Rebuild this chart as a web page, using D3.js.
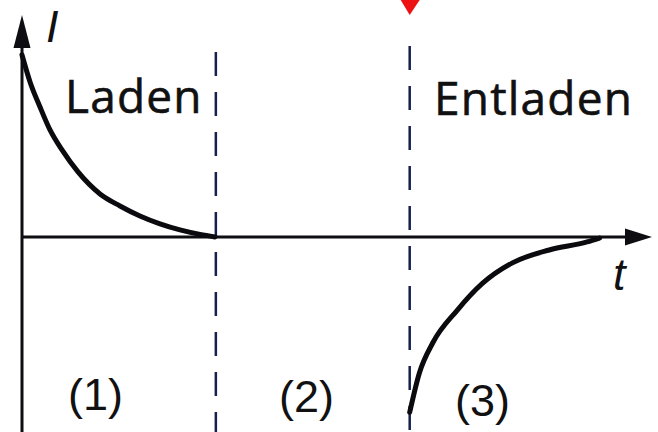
<!DOCTYPE html>
<html>
<head>
<meta charset="utf-8">
<script src="https://cdn.jsdelivr.net/npm/d3@7"></script>
<style>
  html, body { margin: 0; padding: 0; background: #fff; }
  svg { display: block; }
</style>
</head>
<body>
<div id="chart"></div>
<script>
// Werte (t in Einheiten, Trennlinien bei t = 2 und 4)
const ladenT = [0, 0.083, 0.186, 0.289, 0.413, 0.578, 0.805, 1.011, 1.217, 1.424, 1.630, 1.837, 1.991];
const ladenI = [1.017, 0.866, 0.726, 0.598, 0.486, 0.363, 0.240, 0.173, 0.117, 0.073, 0.039, 0.014, 0];

const entladenT = [4.0, 4.10, 4.24, 4.49, 4.75, 5.06, 5.44, 5.83, 5.96];
const entladenI = [-0.98, -0.76, -0.59, -0.41, -0.26, -0.145, -0.073, -0.028, -0.006];

const dividerT = [2, 4];
const phaseNames = ["Laden", "Entladen"];
const phaseLabels = ["(1)", "(2)", "(3)"];

const width = 658, height = 432;

// Skalen
const x = d3.scaleLinear().domain([0, 6.5]).range([22, 652]);
const y = d3.scaleLinear().domain([-1.09, 1.24]).range([432, 15]);

const svg = d3.select("#chart")
    .append("svg")
    .attr("width", width)
    .attr("height", height);

// Trennlinien (gestrichelt)
svg.selectAll(".divider")
    .data(dividerT)
    .enter()
    .append("line")
        .attr("class", "divider")
        .attr("x1", d => x(d))
        .attr("x2", d => x(d))
        .attr("y1", (d, i) => i === 0 ? 52 : 46)
        .attr("y2", height)
        .attr("stroke", "#16204f")
        .attr("stroke-width", 2.5)
        .attr("stroke-dasharray", "24,16");

// Achsen
const axisColor = "#0d0d12";
svg.append("line")
    .attr("x1", x(0)).attr("x2", x(6.5) - 22)
    .attr("y1", y(0)).attr("y2", y(0))
    .attr("stroke", axisColor).attr("stroke-width", 3);

svg.append("line")
    .attr("x1", x(0)).attr("x2", x(0))
    .attr("y1", height).attr("y2", y(1.24) + 25)
    .attr("stroke", axisColor).attr("stroke-width", 3);

// Pfeilspitzen
svg.append("path")
    .attr("d", `M${x(6.5)},${y(0)} L${x(6.5) - 27},${y(0) - 8.5} L${x(6.5) - 27},${y(0) + 8.5} Z`)
    .attr("fill", axisColor);

svg.append("path")
    .attr("d", `M${x(0)},${y(1.24)} L${x(0) - 8.5},${y(1.24) + 33} L${x(0) + 8.5},${y(1.24) + 33} Z`)
    .attr("fill", axisColor);

// Kurven
const line = d3.line()
    .x(d => x(d[0]))
    .y(d => y(d[1]))
    .curve(d3.curveMonotoneX);

svg.append("path")
    .datum(d3.zip(ladenT, ladenI))
    .attr("d", line)
    .attr("fill", "none")
    .attr("stroke", "#0a0a0f")
    .attr("stroke-width", 5)
    .attr("stroke-linecap", "round");

svg.append("path")
    .datum(d3.zip(entladenT, entladenI))
    .attr("d", line)
    .attr("fill", "none")
    .attr("stroke", "#0a0a0f")
    .attr("stroke-width", 5)
    .attr("stroke-linecap", "round");

// Roter Marker oben
svg.append("path")
    .attr("d", `M${x(4) - 9},0 L${x(4) + 10},0 L${x(4)},15 Z`)
    .attr("fill", "#ee1111");

// Achsenbeschriftung
svg.append("text")
    .attr("x", 46).attr("y", 42)
    .style("font-family", "Liberation Sans, Arial, sans-serif")
    .style("font-style", "italic")
    .style("font-size", "45px")
    .style("fill", "#111")
    .text("I");

svg.append("text")
    .attr("x", 613).attr("y", 290)
    .style("font-family", "Liberation Sans, Arial, sans-serif")
    .style("font-style", "italic")
    .style("font-size", "45px")
    .style("fill", "#111")
    .text("t");

// Phasennamen
svg.selectAll(".phase-name")
    .data(phaseNames)
    .enter()
    .append("text")
        .attr("class", "phase-name")
        .attr("x", (d, i) => i === 0 ? 65 : 434)
        .attr("y", (d, i) => i === 0 ? 113 : 115)
        .style("font-family", "Open Sans, sans-serif")
        .style("font-size", "46px")
        .style("letter-spacing", "1.2px")
        .style("stroke", "#111")
        .style("stroke-width", 0.6)
        .style("fill", "#111")
        .text(d => d);

// Phasennummern
svg.selectAll(".phase-label")
    .data(phaseLabels)
    .enter()
    .append("text")
        .attr("class", "phase-label")
        .attr("x", (d, i) => [68, 279, 455][i])
        .attr("y", (d, i) => [410, 412, 416][i])
        .style("font-family", "Liberation Sans, Arial, sans-serif")
        .style("font-size", "45px")
        .style("fill", "#111")
        .text(d => d);
</script>
</body>
</html>
